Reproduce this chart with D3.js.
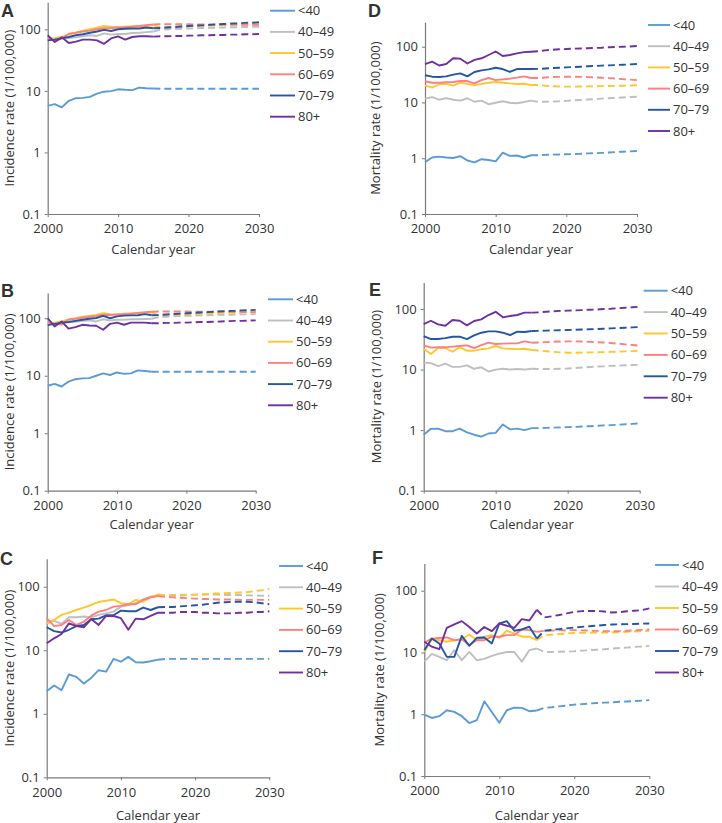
<!DOCTYPE html>
<html><head><meta charset="utf-8">
<script src="https://cdn.jsdelivr.net/npm/d3@7"></script>
<style>
body{margin:0;background:#fff}
svg{display:block}
text{font-family:"Open Sans",sans-serif;fill:#333}
</style>
</head><body>
<svg id="chart" width="722" height="823"></svg>
<script>
// ---------- data ----------
const obsYears = [2000,2001,2002,2003,2004,2005,2006,2007,2008,2009,2010,2011,2012,2013,2014,2015];
const projYears = [2016,2017,2018,2019,2020,2021,2022,2023,2024,2025,2026,2027,2028,2029,2030];
const ageGroups = ["<40","40–49","50–59","60–69","70–79","80+"];
const seriesColors = ["#5B9BD5","#BFBFBF","#FFC72C","#FF7F7F","#2456A4","#7030A0"];
const yTickValues = [0.1,1,10,100];
const xTickValues = [2000,2010,2020,2030];

// A: incidence (observed 2000–2015, projected 2016–2030)
const incidenceA_obs = [
  [5.7,6.1,5.4,6.9,7.6,7.7,8.0,9.0,9.7,9.9,10.6,10.4,10.3,11.3,11.0,10.9],
  [68,70,72,72,74,77,80,78,86,82,84,84,87,88,90,92],
  [70,72,76,82,88,95,100,106,113,110,108,110,112,112,114,116],
  [72,66,70,85,88,92,95,100,104,105,107,108,110,113,117,120],
  [66,68,72,75,80,83,88,92,98,94,100,102,103,103,107,104],
  [80,62,74,60,63,68,68,66,58,71,77,68,75,77,77,76]
];
const incidenceA_proj = [
  [10.8,10.8,10.8,10.8,10.8,10.8,10.8,10.8,10.8,10.8,10.8,10.8,10.8,10.8,10.8],
  [98,100,101,102,103,104,105,106,106,107,108,108,109,110,110],
  [108,109,110,111,112,113,114,115,116,117,118,119,120,121,122],
  [121,121,121,121,121,120,120,120,120,119,119,119,118,118,118],
  [105,107,109,111,113,115,116,118,120,122,124,125,127,128,130],
  [77,77,78,78,79,79,80,80,81,81,82,82,83,83,84]
];
// B: incidence
const incidenceB_obs = [
  [6.7,7.2,6.5,7.9,8.7,9.0,9.1,10.0,11.0,10.3,11.4,10.8,11.0,12.4,12.1,11.7],
  [80,82,84,85,87,90,92,88,96,92,94,94,96,96,97,98],
  [82,84,88,95,100,106,110,114,122,118,117,120,121,122,124,126],
  [85,80,78,95,98,102,106,110,115,114,116,118,120,124,128,130],
  [76,80,84,86,90,94,98,101,110,100,108,111,112,113,118,113],
  [100,72,88,66,70,77,75,74,63,80,84,77,84,84,84,82]
];
const incidenceB_proj = [
  [11.7,11.7,11.7,11.7,11.7,11.7,11.7,11.7,11.7,11.7,11.7,11.7,11.7,11.7,11.7],
  [104,106,108,109,110,111,112,113,114,115,115,116,117,117,118],
  [113,114,115,116,117,118,119,121,122,124,125,126,127,128,130],
  [131,131,131,131,131,130,130,130,130,129,129,129,128,128,128],
  [114,116,118,120,122,124,126,128,130,132,134,135,137,138,140],
  [82,83,83,84,84,85,86,86,87,88,89,90,90,91,92]
];
// C: incidence
const incidenceC_obs = [
  [2.27,2.79,2.35,4.15,3.81,3.0,3.67,4.85,4.6,7.3,6.6,7.86,6.48,6.4,6.7,7.1],
  [26.5,29,26,33,33,34,33,36,38,40.5,48.5,51.5,55,63,70,72],
  [27,30,36,39,43,47,51.5,57.5,60,63,55,53,62,58,68,76],
  [32,24,25,30,25,28,35,40.5,43,48.5,50,53,53,62,68,71],
  [23,20,19,21,24,25,30.7,31.5,35.5,35.5,42,41,41,47,43,47.5],
  [12.9,15.4,18,26.5,24,23,31,25,34.6,34.6,32,21,31.5,30.7,34.6,39]
];
const incidenceC_proj = [
  [7.3,7.3,7.3,7.3,7.3,7.3,7.3,7.3,7.3,7.3,7.3,7.3,7.3,7.3,7.3],
  [73,74,74,75,75,75,75,75,74,74,74,73,73,72,72],
  [72,72,73,74,75,76,77,78,79,80,81,82,85,88,92],
  [69,68,67,66,65,64,64,63,63,63,62,62,62,62,62],
  [48,48,49,50,51,52,54,56,57,58,58,58,57,55,53],
  [39,39,40,40,40,39,39,38,38,38,39,39,40,40,41]
];
// D: mortality
const mortalityD_obs = [
  [0.85,1.03,1.07,1.03,1.01,1.09,0.91,0.84,0.96,0.93,0.88,1.26,1.1,1.12,1.03,1.13],
  [11.7,12.5,11.2,12.0,11.2,10.8,11.9,10.3,10.8,9.3,9.9,10.5,9.9,9.7,10.2,10.8],
  [20.3,18.4,21.2,21.5,20.0,22.6,21.5,20.3,21.5,22.6,23.3,22.6,22.0,21.5,21.7,20.6],
  [24.0,22.6,22.6,23.0,23.3,24.2,24.2,22.0,25.2,27.5,25.2,26.0,26.7,27.9,29.4,27.5],
  [30.7,29.0,28.6,29.4,31.5,33.3,29.4,35.2,37.7,39.3,42.0,39.8,35.2,39.8,39.8,39.8],
  [48.9,54,46,49,62,61,50,58,62,71,82,68,71,76,80,81]
];
const mortalityD_proj = [
  [1.13,1.15,1.16,1.17,1.18,1.19,1.2,1.22,1.23,1.25,1.27,1.29,1.31,1.33,1.35],
  [10.3,10.3,10.4,10.5,10.7,10.9,11.1,11.3,11.5,11.7,11.9,12.1,12.3,12.5,12.7],
  [20.6,20.0,19.6,19.3,19.2,19.2,19.3,19.4,19.5,19.6,19.7,19.9,20.0,20.2,20.3],
  [27.5,28.0,28.5,28.8,29.0,29.0,28.8,28.5,28.2,27.8,27.3,26.8,26.2,25.7,25.2],
  [40.0,40.6,41.3,42.0,42.6,43.2,43.8,44.5,45.1,45.7,46.3,46.9,47.5,48.2,49.0],
  [83,86,88,90,91,92,93,94,95,96,98,99,100,101,103]
];
// E: mortality
const mortalityE_obs = [
  [0.84,1.05,1.06,0.96,0.96,1.06,0.92,0.84,0.78,0.88,0.9,1.24,1.03,1.06,1.0,1.08],
  [13.0,12.8,11.4,12.5,11.1,11.1,11.7,10.3,10.9,9.3,10.0,10.3,10.0,10.2,10.0,10.3],
  [22.1,18.1,22.7,22.7,19.7,23.3,20.5,20.5,21.6,22.4,24.5,22.4,22.1,21.8,22.1,21.0],
  [25.1,23.0,23.3,23.3,23.9,24.5,25.1,22.7,25.4,27.8,26.4,26.8,27.1,27.1,29.2,27.8],
  [35.8,31.9,31.9,33.1,34.9,34.9,31.9,36.7,40.6,42.8,42.8,40.6,37.2,42.2,41.7,43.3],
  [56.5,64,55.7,53,65.8,64,53.7,63.3,67.5,79.6,90,72.9,76.6,79.6,87,87]
];
const mortalityE_proj = [
  [1.08,1.09,1.1,1.11,1.12,1.13,1.15,1.16,1.18,1.2,1.21,1.23,1.25,1.27,1.29],
  [10.2,10.2,10.2,10.3,10.4,10.6,10.8,11.0,11.2,11.3,11.5,11.6,11.8,11.9,12.0],
  [20.6,20.1,19.6,19.2,19.0,19.0,19.1,19.2,19.3,19.4,19.6,19.8,20.0,20.2,20.5],
  [28.0,28.4,28.8,29.0,29.2,29.2,29.0,28.7,28.4,28.0,27.4,26.8,26.1,25.4,24.8],
  [43.6,44.0,44.4,44.7,45.0,45.4,45.8,46.3,46.8,47.3,47.9,48.5,49.1,49.8,50.4],
  [88,90,92,93,94,95,96,97,98,100,101,103,105,107,109]
];
// F: mortality
const mortalityF_obs = [
  [0.99,0.87,0.93,1.16,1.09,0.93,0.72,0.8,1.62,1.09,0.73,1.16,1.28,1.27,1.12,1.15],
  [7.1,9.5,8.5,7.5,10.9,7.5,10.2,7.5,7.9,8.8,9.6,10.2,10.2,7.1,10.9,11.6],
  [10.2,16.4,15.8,14.9,15.8,16.4,19.6,15.8,18.0,19.1,17.3,22.5,20.3,18.0,18.0,15.8],
  [14.5,16.8,17.2,17.5,15.8,16.4,13.2,15.8,15.8,18.0,18.0,19.1,19.1,23.6,23.0,21.6],
  [10.9,16.8,14.0,8.5,8.5,18.6,12.8,17.3,17.5,14.0,29.5,32.2,22.5,23.6,26.1,16.8],
  [14.9,12.4,11.3,25.1,28.4,32.2,25.8,20.3,25.8,22.2,29.5,27.1,25.1,34.7,33.0,49.2]
];
const mortalityF_proj = [
  [1.27,1.3,1.34,1.38,1.43,1.46,1.49,1.52,1.54,1.56,1.59,1.61,1.64,1.66,1.69],
  [10.2,10.2,10.3,10.4,10.5,10.7,10.9,11.1,11.3,11.6,11.8,12.0,12.3,12.5,12.8],
  [19.1,19.5,19.9,20.3,20.8,20.9,20.9,21.0,21.0,21.1,21.3,21.6,21.9,22.2,22.5],
  [22.5,22.6,22.8,23.0,23.0,22.8,22.6,22.4,22.2,22.0,22.2,22.5,22.8,23.2,23.6],
  [22.5,23.2,23.9,24.6,25.4,26.0,26.6,27.2,27.8,28.4,28.6,28.8,29.0,29.3,29.5],
  [37,38.5,40.5,43,45.5,46.8,47,47,46,44.5,45,46.5,47.5,48.5,51.7]
];

// ---------- layout ----------
const incTitle = "Incidence rate (1/100,000)";
const morTitle = "Mortality rate (1/100,000)";
const panels = [
  {letter:"A", lx:1,   ly:16.5, title:incTitle, obs:incidenceA_obs, proj:incidenceA_proj, x0:47.7, x1:259,   yb:214,   yt:2.25,  tx:9,   cy:254,
   gx0:270, gx1:295, gy:10.7, gs:21.2},
  {letter:"D", lx:368, ly:16.5, title:morTitle, obs:mortalityD_obs, proj:mortalityD_proj, x0:425,  x1:637,   yb:214,   yt:22.2,  tx:375, cy:254,
   gx0:648, gx1:670, gy:25,   gs:21.2},
  {letter:"B", lx:1,   ly:297, title:incTitle, obs:incidenceB_obs, proj:incidenceB_proj, x0:47.7, x1:255.7, yb:490.7, yt:293,   tx:9,   cy:529,
   gx0:268, gx1:293, gy:299.3, gs:21.2},
  {letter:"E", lx:369, ly:296, title:morTitle, obs:mortalityE_obs, proj:mortalityE_proj, x0:423.7,x1:639.7, yb:490.7, yt:282.4, tx:376, cy:529,
   gx0:643.7, gx1:667.7, gy:290.7, gs:21.4},
  {letter:"C", lx:0,   ly:565, title:incTitle, obs:incidenceC_obs, proj:incidenceC_proj, x0:46.7, x1:269.3, yb:777.3, yt:558.8, tx:9,   cy:820,
   gx0:279, gx1:303, gy:566,  gs:21.3},
  {letter:"F", lx:372, ly:564, title:morTitle, obs:mortalityF_obs, proj:mortalityF_proj, x0:424.3,x1:649.3, yb:776,   yt:563.6, tx:379, cy:820,
   gx0:655, gx1:679, gy:565,  gs:21.5}
];

const svg = d3.select("#chart");
const FS = 13;

panels.forEach(p => {
  const g = svg.append("g");
  const x = d3.scaleLinear().domain([2000, 2030]).range([p.x0, p.x1]);
  const y = d3.scaleLog().domain([0.1, 275]).range([p.yb, p.yt]);

  // axes
  const ya = g.append("g").attr("transform", `translate(${p.x0},0)`)
    .call(d3.axisLeft(y).tickValues(yTickValues).tickFormat(d => String(d))
      .tickSize(3).tickSizeOuter(0).tickPadding(4));
  const xa = g.append("g").attr("transform", `translate(0,${p.yb})`)
    .call(d3.axisBottom(x).tickValues(xTickValues).tickFormat(d => String(d))
      .tickSize(3).tickSizeOuter(0).tickPadding(7));
  [ya, xa].forEach(a => {
    a.selectAll("path.domain").attr("stroke", "#7a7a7a").attr("stroke-width", 1.2);
    a.selectAll(".tick line").attr("stroke", "#7a7a7a");
    a.selectAll(".tick text").attr("font-size", FS).attr("fill", "#333")
      .style("font-family", '"Open Sans",sans-serif');
  });

  // axis titles
  g.append("text").attr("x", (p.x0 + p.x1) / 2).attr("y", p.cy)
    .attr("text-anchor", "middle").attr("font-size", FS).text("Calendar year");
  g.append("text")
    .attr("transform", `translate(${p.tx},${(p.yb + p.yt) / 2}) rotate(-90)`)
    .attr("text-anchor", "middle").attr("dy", "0.35em").attr("font-size", FS).text(p.title);

  // panel letter
  g.append("text").attr("x", p.lx).attr("y", p.ly).attr("font-size", 18)
    .attr("font-weight", "bold").attr("fill", "#111")
    .style("font-family", '"Liberation Sans",Arial,sans-serif').text(p.letter);

  const line = d3.line().x(d => x(d[0])).y(d => y(d[1]));

  ageGroups.forEach((grp, i) => {
    const obsPts = obsYears.map((yr, k) => [yr, p.obs[i][k]]);
    const projPts = [obsPts[obsPts.length - 1]].concat(projYears.map((yr, k) => [yr, p.proj[i][k]]));
    g.append("path").datum(projPts).attr("d", line).attr("fill", "none")
      .attr("stroke", seriesColors[i]).attr("stroke-width", 1.9)
      .attr("stroke-dasharray", "7,4");
    g.append("path").datum(obsPts).attr("d", line).attr("fill", "none")
      .attr("stroke", seriesColors[i]).attr("stroke-width", 1.9)
      .attr("stroke-linejoin", "round");

    // legend
    const ly = p.gy + i * p.gs;
    g.append("line").attr("x1", p.gx0).attr("x2", p.gx1).attr("y1", ly).attr("y2", ly)
      .attr("stroke", seriesColors[i]).attr("stroke-width", 1.9);
    g.append("text").attr("x", p.gx1 + 3).attr("y", ly).attr("dy", "0.35em")
      .attr("font-size", FS).text(grp);
  });
});
</script>
</body></html>
